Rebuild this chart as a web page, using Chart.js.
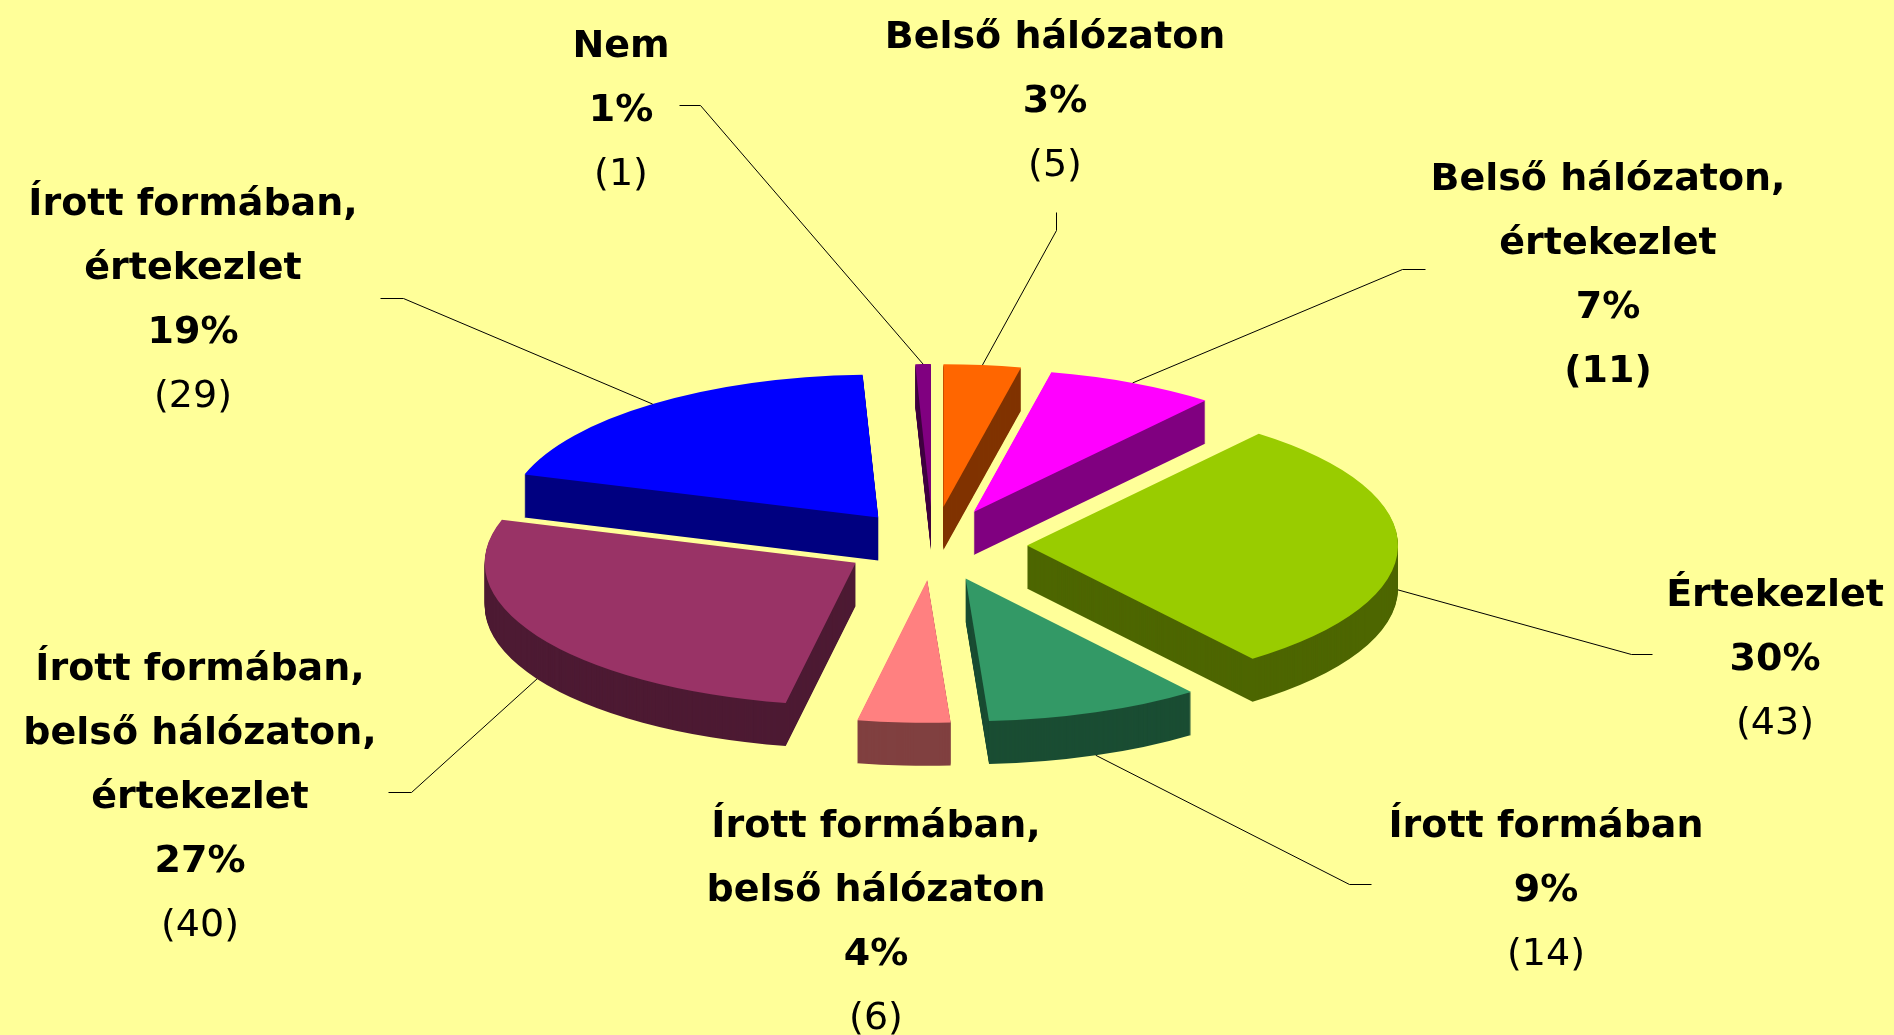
<!DOCTYPE html>
<html>
<head>
<meta charset="utf-8">
<script src="https://cdn.jsdelivr.net/npm/chart.js@4.4.1/dist/chart.umd.min.js"></script>
<style>
  html, body { margin: 0; padding: 0; background: #FFFF99; overflow: hidden; }
  #wrap { width: 1894px; height: 1035px; position: relative; }
</style>
</head>
<body>
<div id="wrap"><canvas id="c"></canvas></div>
<script>
// ---------------- DATA ----------------
const categories = [
  ['Belső hálózaton'],
  ['Belső hálózaton,', 'értekezlet'],
  ['Értekezlet'],
  ['Írott formában'],
  ['Írott formában,', 'belső hálózaton'],
  ['Írott formában,', 'belső hálózaton,', 'értekezlet'],
  ['Írott formában,', 'értekezlet'],
  ['Nem']
];
const counts = [5, 11, 43, 14, 6, 40, 29, 1];
const percentLabels = ['3%', '7%', '30%', '9%', '4%', '27%', '19%', '1%'];

// ---------------- STYLE / LAYOUT ----------------
const topColors  = ['#FF6600', '#FF00FF', '#99CC00', '#339966', '#FF8080', '#993366', '#0000FF', '#800080'];
const sideColors = ['#803300', '#800080', '#4D6600', '#1A4D33', '#804040', '#4D1A33', '#000080', '#400040'];
const countBold  = [false, true, false, false, false, false, false, false];
const explodeBy  = [99, 95, 94, 93, 91, 90, 90, 99];

const PIE_CX = 933, PIE_CY = 545, TILT = 0.385, DEPTH = 43, RADIUS = 371;
const FONT_SIZE = 38, LINE_H = 64;
const FONT_FAMILY = '"DejaVu Sans", "Noto Sans", sans-serif';

// label anchor: [centerX, first baseline]
const labelAnchors = [
  [1055, 48], [1608, 190], [1775, 606], [1546, 837],
  [876, 837], [200, 680], [193, 215], [621, 57]
];
// leader line: elbow point and end point (null = no leader)
const leaderPaths = [
  [[1056, 230], [1056, 212]],
  [[1402, 269], [1425, 269]],
  [[1631, 654], [1652, 654]],
  [[1349, 884], [1371, 884]],
  null,
  [[411, 792], [388, 792]],
  [[403, 298], [380, 298]],
  [[700, 105], [679, 105]]
];

function drawArcWith(ctx, arc, color) {
  const saved = arc.options;
  arc.options = Object.assign({}, saved, { backgroundColor: color, borderWidth: 0, offset: 0, spacing: 0 });
  arc.draw(ctx);
  arc.options = saved;
}

const pie3d = {
  id: 'pie3d',
  beforeDatasetsDraw(chart) {
    const ctx = chart.ctx;
    const meta = chart.getDatasetMeta(0);
    const items = meta.data.map((a, i) => ({ a, i, half: (a.startAngle + a.endAngle) / 2 }));
    items.sort((p, q) => Math.sin(p.half) - Math.sin(q.half));
    for (const { a, i, half } of items) {
      const ex = explodeBy[i];
      for (let d = DEPTH; d >= 0; d--) {
        ctx.save();
        ctx.translate(PIE_CX, PIE_CY + d);
        ctx.scale(1, TILT);
        ctx.translate(Math.cos(half) * ex, Math.sin(half) * ex);
        ctx.translate(-a.x, -a.y);
        drawArcWith(ctx, a, d === 0 ? topColors[i] : sideColors[i]);
        ctx.restore();
      }
    }
    return false;
  }
};

const labelsPlugin = {
  id: 'labels3d',
  afterDraw(chart) {
    const ctx = chart.ctx;
    const meta = chart.getDatasetMeta(0);
    ctx.save();
    // leader lines
    ctx.strokeStyle = '#000000';
    ctx.lineWidth = 1;
    meta.data.forEach((a, i) => {
      const path = leaderPaths[i];
      if (!path) return;
      const half = (a.startAngle + a.endAngle) / 2;
      const r = explodeBy[i] + a.outerRadius;
      const sx = PIE_CX + Math.cos(half) * r;
      let sy = PIE_CY + Math.sin(half) * r * TILT;
      if (Math.sin(half) > -0.05) sy += DEPTH;
      ctx.beginPath();
      ctx.moveTo(sx, sy);
      ctx.lineTo(path[0][0] + 0.5, path[0][1] + 0.5);
      ctx.lineTo(path[1][0] + 0.5, path[1][1] + 0.5);
      ctx.stroke();
    });
    // texts
    ctx.fillStyle = '#000000';
    ctx.textAlign = 'center';
    ctx.textBaseline = 'alphabetic';
    meta.data.forEach((a, i) => {
      const [x, y0] = labelAnchors[i];
      const lines = [];
      categories[i].forEach(t => lines.push([t, true]));
      lines.push([percentLabels[i], true]);
      lines.push(['(' + counts[i] + ')', countBold[i]]);
      lines.forEach(([t, bold], k) => {
        ctx.font = (bold ? 'bold ' : '') + FONT_SIZE + 'px ' + FONT_FAMILY;
        ctx.fillText(t, x, y0 + k * LINE_H);
      });
    });
    ctx.restore();
  }
};

new Chart(document.getElementById('c'), {
  type: 'pie',
  data: {
    labels: categories,
    datasets: [{
      data: counts,
      backgroundColor: topColors,
      borderWidth: 0,
      offset: 0,
      hoverOffset: 0
    }]
  },
  options: {
    responsive: true,
    maintainAspectRatio: false,
    animation: false,
    events: [],
    radius: RADIUS,
    layout: { padding: 0 },
    plugins: {
      legend: { display: false },
      tooltip: { enabled: false }
    }
  },
  plugins: [pie3d, labelsPlugin]
});
</script>
</body>
</html>
